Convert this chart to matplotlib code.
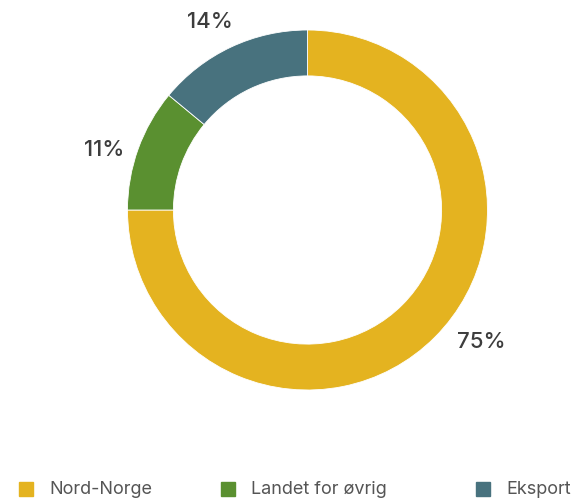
import matplotlib
matplotlib.use("Agg")
import matplotlib.pyplot as plt
import numpy as np
from matplotlib.patches import Rectangle

categories = ["Nord-Norge", "Landet for øvrig", "Eksport"]
values = [75, 11, 14]
labels = ["75%", "11%", "14%"]
colors = ["#E4B320", "#5A9030", "#48727E"]

plt.rcParams['font.family'] = ['Inter', 'DejaVu Sans']

W, H = 572, 502
fig = plt.figure(figsize=(W / 100, H / 100), dpi=100)
cx, cy, R = 307.5, 211, 180
ax = fig.add_axes([(cx - R) / W, (H - cy - R) / H, 2 * R / W, 2 * R / H])

wedges, _ = ax.pie(values, colors=colors, startangle=90, counterclock=False,
                   radius=1, wedgeprops=dict(width=0.255, edgecolor='white', linewidth=0.6))
ax.set_xlim(-1, 1)
ax.set_ylim(-1, 1)
ax.set_aspect('equal')
ax.axis('off')

# percentage labels placed outside the ring near wedge midpoints
angle_tweak = [8, 3, 2]
label_r = [1.21, 1.18, 1.18]
total = sum(values)
start = 90.0
for v, lab, tw, r in zip(values, labels, angle_tweak, label_r):
    mid = start - v / total * 360 / 2
    start -= v / total * 360
    a = np.deg2rad(mid + tw)
    ax.text(r * np.cos(a), r * np.sin(a), lab, ha='center', va='center',
            fontsize=16, color='#3d3d3d', fontweight='medium')

# manual legend
leg_x = [19, 221, 476]
leg_y = 490
sq = 14
for x, c, name in zip(leg_x, colors, categories):
    fig.patches.append(Rectangle((x / W, (H - leg_y - sq / 2) / H), sq / W, sq / H,
                                 transform=fig.transFigure, color=c))
    fig.text((x + sq + 16) / W, (H - leg_y) / H, name, ha='left', va='center',
             fontsize=13, color='#555555')

fig.savefig("out.png", dpi=100)
